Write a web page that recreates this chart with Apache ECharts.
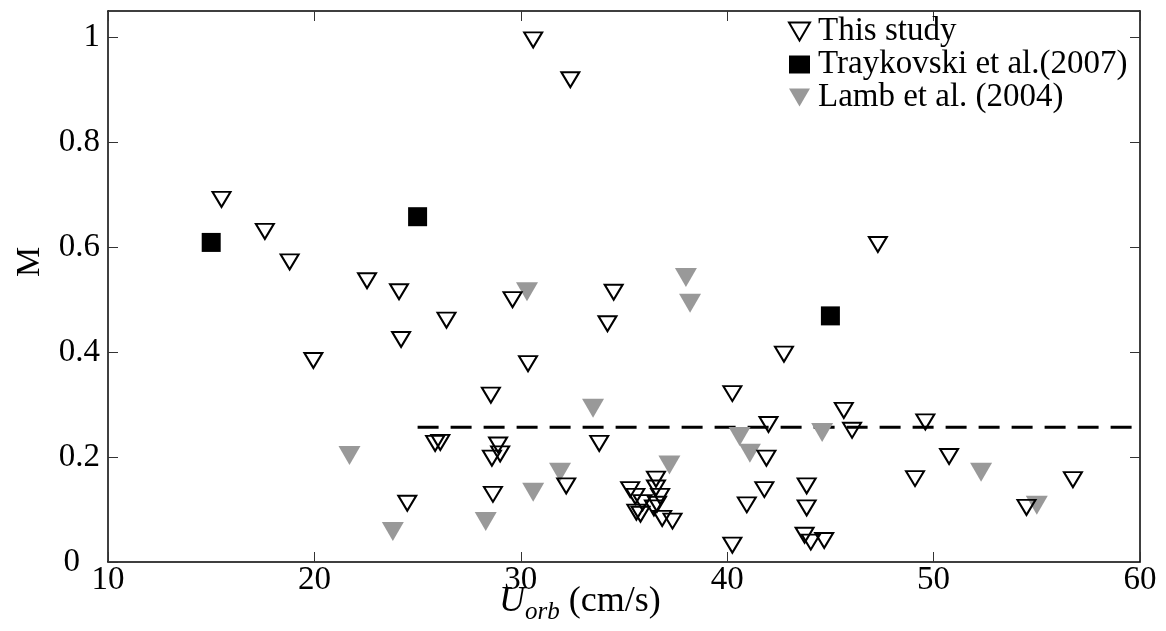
<!DOCTYPE html>
<html>
<head>
<meta charset="utf-8">
<script src="https://cdn.jsdelivr.net/npm/echarts@6/dist/echarts.min.js"></script>
<style>
  html, body { margin: 0; padding: 0; background: #fff; }
  #chart { width: 1166px; height: 631px; }
</style>
</head>
<body>
<div id="chart"></div>
<script>
// Orbital velocity U_orb (cm/s) and M for each data set
const studyU = [30.6, 32.4, 15.5, 17.6, 18.8, 22.55, 24.1, 26.4, 24.2, 19.95, 28.55, 25.85, 26.1,
  28.9, 29.0, 28.6, 28.65, 24.5, 29.6, 34.5, 34.2, 30.35, 42.75, 40.25, 45.65, 42.0, 46.05, 33.8,
  41.9, 32.2, 41.8, 40.95, 43.85, 43.85, 43.75, 44.05, 44.7, 40.25, 47.3, 49.6, 50.75, 49.1,
  56.75, 54.5, 35.3, 35.55, 35.9, 35.6, 35.8, 36.55, 36.55, 36.75, 36.6, 36.45, 36.85, 37.35];
const studyM = [0.995, 0.919, 0.691, 0.630, 0.572, 0.536, 0.515, 0.461, 0.424, 0.384, 0.318, 0.226, 0.228,
  0.223, 0.206, 0.198, 0.129, 0.112, 0.500, 0.514, 0.454, 0.378, 0.396, 0.321, 0.289, 0.262, 0.251, 0.226,
  0.198, 0.145, 0.138, 0.109, 0.145, 0.103, 0.051, 0.038, 0.041, 0.032, 0.605, 0.267, 0.201, 0.159,
  0.157, 0.104, 0.138, 0.125, 0.113, 0.095, 0.091, 0.158, 0.141, 0.125, 0.110, 0.103, 0.083, 0.078];

const traykovskiU = [15.0, 25.0, 45.0];
const traykovskiM = [0.609, 0.658, 0.469];

const lambU = [21.7, 23.8, 28.3, 30.3, 38.0, 38.2, 33.5, 40.6, 41.1, 44.6, 31.9, 30.6, 37.2, 52.3, 55.0];
const lambM = [0.203, 0.058, 0.077, 0.515, 0.542, 0.493, 0.293, 0.239, 0.207, 0.247, 0.171, 0.133, 0.185, 0.171, 0.108];

// Mean level drawn as a dashed reference line
const meanU = [25, 60];
const meanM = 0.257;

const xTicks = [10, 20, 30, 40, 50, 60];
const yTicks = [0, 0.2, 0.4, 0.6, 0.8, 1];

const seriesNames = ['This study', 'Traykovski et al.(2007)', 'Lamb et al. (2004)'];

const pairs = (xs, ys) => xs.map((x, i) => [x, ys[i]]);

const FONT = 'Liberation Serif';
const TRI_DOWN = 'path://M0,0L20,0L10,17Z';

const chart = echarts.init(document.getElementById('chart'), null, { renderer: 'canvas' });

const tickStyle = { show: true, inside: true, length: 10, lineStyle: { color: '#333', width: 1 } };
const lineStyle = { show: true, onZero: false, lineStyle: { color: '#000', width: 1.5 } };

chart.setOption({
  animation: false,
  backgroundColor: '#fff',
  grid: { left: 108, right: 26, top: 11, bottom: 69, containLabel: false },
  legend: {
    orient: 'vertical',
    left: 788,
    top: 15,
    padding: 0,
    itemWidth: 21,
    itemHeight: 18,
    itemGap: 0,
    data: seriesNames,
    textStyle: { fontFamily: FONT, fontSize: 33, color: '#000', lineHeight: 31, padding: [0, 0, 0, 3] }
  },
  xAxis: [{
    type: 'value', min: xTicks[0], max: xTicks[xTicks.length - 1], interval: 10,
    position: 'bottom',
    axisLine: lineStyle, axisTick: tickStyle, splitLine: { show: false },
    axisLabel: { fontFamily: FONT, fontSize: 33, color: '#000', margin: 1, lineHeight: 34 }
  }, {
    type: 'value', min: xTicks[0], max: xTicks[xTicks.length - 1], interval: 10,
    position: 'top',
    axisLine: lineStyle, axisTick: tickStyle, splitLine: { show: false },
    axisLabel: { show: false }
  }],
  yAxis: [{
    type: 'value', min: 0, max: 1.05, interval: 0.2,
    position: 'left',
    axisLine: lineStyle, axisTick: tickStyle, splitLine: { show: false },
    axisLabel: {
      fontFamily: FONT, fontSize: 33, color: '#000', margin: 8, showMaxLabel: false,
      formatter: v => (v === 0 ? '{z|0}' : String(+v.toFixed(1))),
      rich: { z: { fontFamily: FONT, fontSize: 33, color: '#000', padding: [0, 20, 0, 0] } }
    }
  }, {
    type: 'value', min: 0, max: 1.05, interval: 0.2,
    position: 'right',
    axisLine: lineStyle, axisTick: tickStyle, splitLine: { show: false },
    axisLabel: { show: false }
  }],
  series: [{
    name: 'mean',
    type: 'line',
    data: meanU.map(u => [u, meanM]),
    symbol: 'none',
    lineStyle: { color: '#000', width: 3, type: [21, 12] },
    silent: true,
    z: 1
  }, {
    name: seriesNames[0],
    type: 'scatter',
    data: pairs(studyU, studyM),
    symbol: TRI_DOWN,
    symbolSize: [18, 15],
    itemStyle: { color: 'rgba(0,0,0,0)', borderColor: '#000', borderWidth: 2, opacity: 1 },
    z: 3
  }, {
    name: seriesNames[1],
    type: 'scatter',
    data: pairs(traykovskiU, traykovskiM),
    symbol: 'rect',
    symbolSize: 19,
    itemStyle: { color: '#000', opacity: 1 },
    z: 3
  }, {
    name: seriesNames[2],
    type: 'scatter',
    data: pairs(lambU, lambM),
    symbol: TRI_DOWN,
    symbolSize: [22, 19],
    itemStyle: { color: '#999999', opacity: 1 },
    z: 2
  }],
  graphic: [{
    type: 'text',
    left: 499,
    top: 584,
    style: {
      text: '{u|U}{s|orb}{n| (cm/s)}',
      rich: {
        u: { fontFamily: FONT, fontStyle: 'italic', fontSize: 36, color: '#000' },
        s: { fontFamily: FONT, fontStyle: 'italic', fontSize: 25, color: '#000', padding: [20, 0, 0, 0] },
        n: { fontFamily: FONT, fontSize: 36, color: '#000' }
      }
    }
  }, {
    type: 'text',
    x: 30,
    y: 262,
    rotation: Math.PI / 2,
    style: {
      text: 'M', fontFamily: FONT, fontSize: 34, fill: '#000',
      textAlign: 'center', textVerticalAlign: 'middle'
    }
  }]
});
</script>
</body>
</html>
